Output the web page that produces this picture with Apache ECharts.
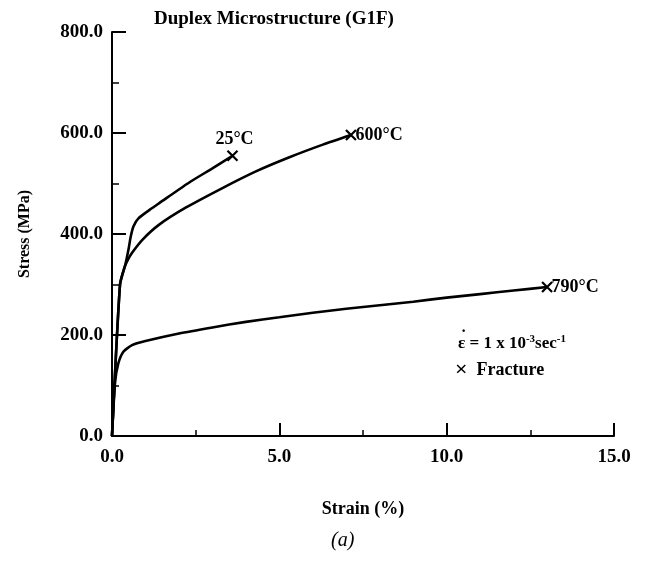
<!DOCTYPE html>
<html>
<head>
<meta charset="utf-8">
<script src="https://cdn.jsdelivr.net/npm/echarts@6/dist/echarts.min.js"></script>
<style>
    html, body { margin: 0; padding: 0; background: #fff; }
    #chart { width: 654px; height: 563px; }
</style>
</head>
<body>
<div id="chart"></div>
<script>
// values: strain (%) and stress (MPa)
var strain25 = [0, 0.24, 0.4, 0.5, 0.56, 0.64, 0.79, 1.19, 1.43, 2.33, 3.0, 3.6];
var stress25 = [0, 300, 340, 372, 395, 415, 431, 451, 462, 503, 530, 555];

var strain600 = [0, 0.24, 0.38, 0.5, 0.6, 0.9, 1.4, 2.2, 3.3, 4.3, 5.3, 6.3, 7.14];
var stress600 = [0, 300, 335, 352, 363, 388, 418, 452, 491, 524, 552, 577, 596];

var strain790 = [0, 0.09, 0.19, 0.34, 0.6, 1.0, 2.0, 3.0, 4.0, 5.0, 6.0, 7.0, 8.0, 9.0, 10.0, 11.0, 12.0, 13.0];
var stress790 = [0, 105, 144, 167, 180, 188, 203, 215, 226, 235, 244, 252, 259, 266, 274, 281, 288, 295];

var fractureNames = ['25°C', '600°C', '790°C'];
var fractureStrain = [3.6, 7.14, 13.0];
var fractureStress = [555, 596, 295];

var serifFont = '"Liberation Serif", "DejaVu Serif", serif';

var zip = function (xs, ys) {
    return xs.map(function (x, i) { return [x, ys[i]]; });
};

var curve = function (name, xs, ys) {
    return {
        name: name,
        type: 'line',
        data: zip(xs, ys),
        smooth: 0.2,
        showSymbol: false,
        lineStyle: { color: '#000', width: 2.6 },
        z: 2
    };
};

var crossPath = 'path://M0,0L10,10M10,0L0,10';

var fractureData = fractureNames.map(function (n, i) {
    return {
        name: n,
        value: [fractureStrain[i], fractureStress[i]],
        label: i === 0 ? { position: 'top', distance: 0, offset: [2, 0] } : { position: 'right', distance: -3 }
    };
});

var chart = echarts.init(document.getElementById('chart'));
var option = {
    animation: false,
    backgroundColor: '#fff',
    title: {
        text: 'Duplex Microstructure (G1F)',
        left: 149,
        top: 5,
        textStyle: { fontFamily: serifFont, fontSize: 19, fontWeight: 'bold', color: '#000' }
    },
    grid: { left: 112, right: 40, top: 32, bottom: 127 },
    xAxis: {
        type: 'value',
        min: 0,
        max: 15,
        interval: 5,
        name: 'Strain (%)',
        nameLocation: 'middle',
        nameGap: 64,
        nameTextStyle: { fontFamily: serifFont, fontSize: 18, fontWeight: 'bold', color: '#000' },
        axisLine: { lineStyle: { color: '#000', width: 2 } },
        axisTick: { inside: true, length: 13, lineStyle: { color: '#000', width: 2 } },
        minorTick: { show: true, splitNumber: 2, length: 6, lineStyle: { color: '#000', width: 1.5 } },
        axisLabel: {
            margin: 12,
            fontFamily: serifFont, fontSize: 19, fontWeight: 'bold', color: '#000',
            formatter: function (v) { return v.toFixed(1); }
        },
        splitLine: { show: false }
    },
    yAxis: {
        type: 'value',
        min: 0,
        max: 800,
        interval: 200,
        name: 'Stress (MPa)',
        nameLocation: 'middle',
        nameGap: 79,
        nameTextStyle: { fontFamily: serifFont, fontSize: 16, fontWeight: 'bold', color: '#000' },
        axisLine: { lineStyle: { color: '#000', width: 2 } },
        axisTick: { inside: true, length: 14, lineStyle: { color: '#000', width: 2 } },
        minorTick: { show: true, splitNumber: 2, length: 7, lineStyle: { color: '#000', width: 1.5 } },
        axisLabel: {
            margin: 9,
            fontFamily: serifFont, fontSize: 19, fontWeight: 'bold', color: '#000',
            formatter: function (v) { return v.toFixed(1); }
        },
        splitLine: { show: false }
    },
    series: [
        curve('25°C', strain25, stress25),
        curve('600°C', strain600, stress600),
        curve('790°C', strain790, stress790),
        {
            name: 'Fracture',
            type: 'scatter',
            data: fractureData,
            symbol: crossPath,
            symbolSize: 10,
            itemStyle: { color: 'none', borderColor: '#000', borderWidth: 2.2, opacity: 1 },
            label: {
                show: true,
                formatter: '{b}',
                fontFamily: serifFont, fontSize: 18, fontWeight: 'bold', color: '#000',
                textBorderWidth: 0, opacity: 1
            },
            z: 3
        }
    ],
    graphic: [
        {
            type: 'text',
            left: 458,
            top: 334,
            style: {
                text: 'ε = 1 x 10{sup|-3}sec{sup|-1}',
                fontFamily: serifFont, fontSize: 17, fontWeight: 'bold', fill: '#000',
                rich: {
                    sup: { fontFamily: serifFont, fontSize: 11, fontWeight: 'bold', padding: [0, 0, 9, 0] }
                }
            }
        },
        {
            type: 'text',
            left: 461,
            top: 324,
            style: { text: '·', fontFamily: serifFont, fontSize: 16, fontWeight: 'bold', fill: '#000' }
        },
        {
            type: 'text',
            left: 455,
            top: 359,
            style: {
                text: '{x|×}  Fracture',
                fontFamily: serifFont, fontSize: 18, fontWeight: 'bold', fill: '#000',
                rich: {
                    x: { fontFamily: serifFont, fontSize: 22, fontWeight: 'bold' }
                }
            }
        },
        {
            type: 'text',
            left: 331,
            top: 531,
            style: {
                text: '(a)',
                fontFamily: serifFont, fontSize: 20, fontStyle: 'italic', fill: '#000'
            }
        }
    ]
};
chart.setOption(option);
</script>
</body>
</html>
